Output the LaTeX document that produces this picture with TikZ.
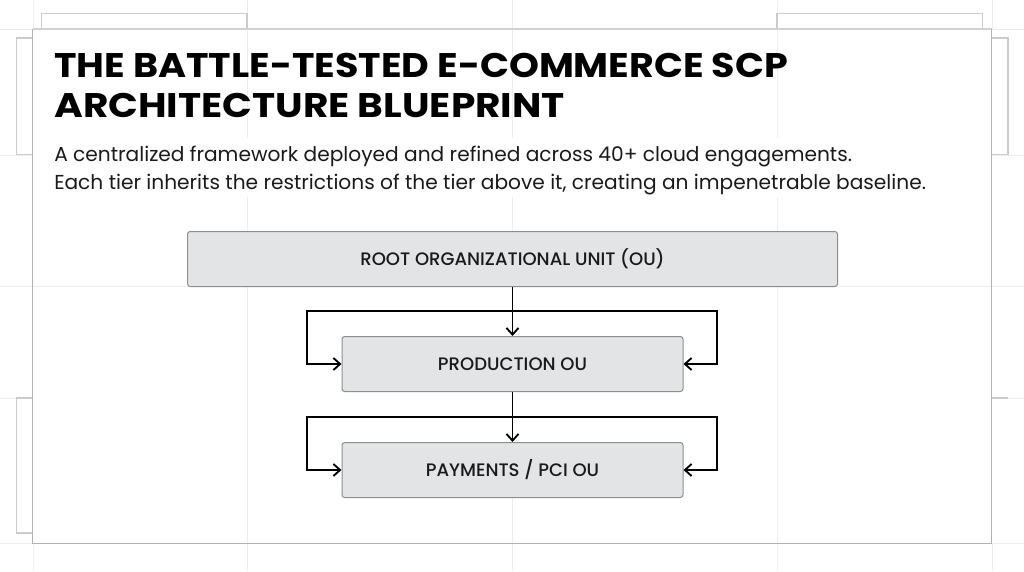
\documentclass[tikz,border=0pt]{standalone}
\usepackage{fontspec}
\setmainfont{Poppins}
\newfontfamily\titlefont{Poppins}[UprightFont=* Bold,BoldFont=* Bold,FakeStretch=1.115]
\newfontfamily\titlefontwide{Poppins}[UprightFont=* Bold,BoldFont=* Bold,FakeStretch=1.145]
\newfontfamily\tierfont{Poppins}[UprightFont=* Medium,BoldFont=* Bold]
\usetikzlibrary{arrows.meta}
\definecolor{boxfill}{HTML}{E3E4E6}
\definecolor{boxline}{HTML}{8C8E90}
\definecolor{ink}{HTML}{1A1A1A}
\tikzset{
  faint/.style={draw=black!7,line width=0.75pt},
  backpanel/.style={draw=black!20,line width=0.85pt},
  paneltop/.style={draw=black!18,line width=1.1pt},
  panelside/.style={draw=black!30,line width=0.75pt},
  tierbox/.style={draw=boxline,fill=boxfill,rounded corners=2pt,line width=0.75pt,text=ink,font=\tierfont\fontsize{13.55}{15}\selectfont,inner sep=0pt,anchor=north west},
  flow/.style={draw=black,line width=1.45pt,-{Straight Barb[length=5pt,width=9pt,line width=1.4pt]}},
  titletext/.style={anchor=north west,inner sep=0pt,align=left,text=black,font=\titlefont\fontsize{25.6}{30}\selectfont},
  subtext/.style={anchor=north west,inner sep=0pt,align=left,text=ink,font=\fontsize{15.12}{21}\selectfont}
}
\begin{document}
\begin{tikzpicture}[x=0.75pt,y=-0.75pt]
\useasboundingbox (0,0) rectangle (1024,571);
\fill[white] (0,0) rectangle (1024,571);
% faint grid outside the panel
\foreach \gx in {33,247,512,777,992}{\draw[faint] (\gx,0) -- (\gx,29); \draw[faint] (\gx,543) -- (\gx,571);}
\foreach \gy in {29,155,286,398,543}{\draw[faint] (0,\gy) -- (33,\gy); \draw[faint] (992,\gy) -- (1024,\gy);}
% back panels
\draw[backpanel] (41.5,29) -- (41.5,13.5) -- (247,13.5) -- (247,29);
\draw[backpanel] (777,29) -- (777,13.5) -- (982.5,13.5) -- (982.5,29);
\draw[backpanel] (33,38) -- (16.5,38) -- (16.5,154.5) -- (33,154.5);
\draw[backpanel] (992,38) -- (1008,38) -- (1008,154.5) -- (992,154.5);
\draw[backpanel] (33,398) -- (16.5,398) -- (16.5,533) -- (33,533);
\draw[backpanel] (992,398) -- (1008,398);
% grid showing faintly through the panel
\foreach \gx in {247,512,777}{\draw[faint] (\gx,29) -- (\gx,138); \draw[faint] (\gx,197) -- (\gx,543);}
\draw[faint] (33,286) -- (992,286);
% main panel
\draw[paneltop] (32.6,29) -- (991.6,29);
\draw[panelside] (32.6,29) -- (32.6,543) -- (991.6,543) -- (991.6,29);
% text
\node[titletext] (title) at (54,53) {THE BATTLE-TESTED E-COMMERCE SCP\\{\titlefontwide ARCHITECTURE BLUEPRINT}};
\node[subtext] (sub) at (54,146) {A centralized framework deployed and refined across 40+ cloud engagements.\\Each tier inherits the restrictions of the tier above it, creating an impenetrable baseline.};
% tiers
\node[tierbox,minimum width=650*0.75pt,minimum height=55*0.75pt] (root) at (187,231) {ROOT ORGANIZATIONAL UNIT (OU)};
\node[tierbox,minimum width=341*0.75pt,minimum height=55*0.75pt] (prod) at (341.5,336) {PRODUCTION OU};
\node[tierbox,minimum width=341*0.75pt,minimum height=55*0.75pt] (pay) at (341.5,442) {PAYMENTS / PCI OU};
% connectors
\coordinate (j1) at (512,311);
\coordinate (l1) at (307,364);
\coordinate (r1) at (717,364);
\coordinate (j2) at (512,417);
\coordinate (l2) at (307,470);
\coordinate (r2) at (717,470);
\draw[flow] (root.south) -- (prod.north);
\draw[flow] (j1) -| (l1) -- (prod.west);
\draw[flow] (j1) -| (r1) -- (prod.east);
\draw[flow] (prod.south) -- (pay.north);
\draw[flow] (j2) -| (l2) -- (pay.west);
\draw[flow] (j2) -| (r2) -- (pay.east);
\end{tikzpicture}
\end{document}
